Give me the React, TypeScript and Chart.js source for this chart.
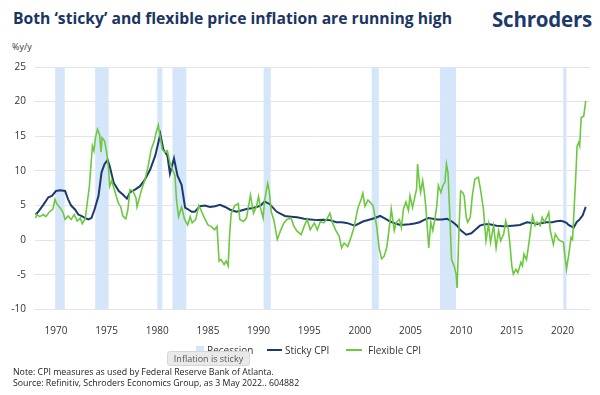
import React, { useEffect, useRef } from "react";
import { Chart, registerables } from "chart.js";

Chart.register(...registerables);

// ---- Data ----
const stickyYears = [
  1968.0, 1968.3, 1968.75, 1969.25, 1969.6, 1970.0, 1970.4, 1970.9, 1971.2, 1971.5,
  1971.9, 1972.2, 1972.5, 1972.9, 1973.2, 1973.5, 1973.8, 1974.2, 1974.5, 1974.8,
  1975.1, 1975.3, 1975.7, 1976.2, 1976.6, 1977.0, 1977.3, 1977.8, 1978.3, 1978.8,
  1979.3, 1979.8, 1980.3, 1980.6, 1981.0, 1981.25, 1981.65, 1982.0, 1982.4, 1982.75,
  1983.0, 1983.4, 1983.7, 1984.2, 1984.7, 1985.2, 1985.7, 1986.2, 1986.7, 1987.2,
  1987.8, 1988.3, 1988.8, 1989.3, 1989.8, 1990.2, 1990.6, 1991.1, 1991.8, 1992.6,
  1993.2, 1993.8, 1994.5, 1995.1, 1995.8, 1996.4, 1997.0, 1997.7, 1998.2, 1998.7,
  1999.5, 2000.3, 2001.0, 2001.5, 2002.0, 2002.5, 2003.0, 2003.5, 2004.0, 2004.9,
  2005.4, 2005.9, 2006.3, 2006.75, 2007.2, 2007.6, 2008.1, 2008.6, 2009.2, 2009.6,
  2009.9, 2010.5, 2011.0, 2011.4, 2011.85, 2012.3, 2012.8, 2013.5, 2014.2, 2015.1,
  2015.8, 2016.5, 2017.0, 2017.5, 2018.0, 2018.4, 2019.0, 2019.4, 2019.8, 2020.1,
  2020.4, 2020.6, 2021.1, 2021.4, 2021.7, 2022.0, 2022.3,
];
const stickyValues = [
  3.7, 4.2, 5.1, 6.2, 6.4, 7.1, 7.2, 7.1, 5.9, 5.0,
  4.4, 3.7, 3.5, 3.2, 3.0, 3.2, 4.4, 6.4, 9.8, 11.0,
  11.6, 10.7, 8.3, 7.1, 6.6, 6.0, 6.9, 7.3, 7.8, 8.8,
  10.2, 12.2, 15.3, 13.1, 12.2, 9.6, 11.8, 9.3, 8.0, 4.7,
  4.5, 4.1, 4.1, 4.9, 5.0, 4.8, 4.9, 5.1, 4.8, 4.4,
  4.1, 4.3, 4.5, 4.6, 4.8, 5.0, 5.6, 5.2, 4.1, 3.5,
  3.4, 3.3, 3.1, 3.0, 2.9, 2.95, 2.9, 2.6, 2.6, 2.5,
  2.1, 2.7, 3.0, 3.2, 3.5, 3.1, 2.7, 2.4, 2.2, 2.3,
  2.4, 2.6, 2.9, 3.2, 3.1, 3.0, 3.0, 3.1, 2.6, 2.1,
  1.5, 0.8, 1.0, 1.5, 2.1, 2.3, 2.3, 2.1, 2.0, 2.1,
  2.2, 2.6, 2.5, 2.3, 2.5, 2.6, 2.6, 2.75, 2.8, 2.7,
  2.5, 2.2, 1.8, 2.6, 3.0, 3.6, 4.8,
];

const flexYears = [
  1968.0, 1968.1, 1968.4, 1968.75, 1969.0, 1969.3, 1969.7, 1969.9, 1970.1, 1970.4,
  1970.7, 1970.9, 1971.2, 1971.5, 1971.8, 1972.1, 1972.4, 1972.6, 1972.9, 1973.0,
  1973.3, 1973.4, 1973.6, 1973.75, 1973.9, 1974.1, 1974.3, 1974.45, 1974.55, 1974.8,
  1975.0, 1975.2, 1975.3, 1975.5, 1975.7, 1975.9, 1976.15, 1976.4, 1976.6, 1976.9,
  1977.1, 1977.3, 1977.6, 1977.9, 1978.0, 1978.2, 1978.45, 1978.8, 1979.1, 1979.4,
  1979.7, 1979.9, 1980.1, 1980.3, 1980.5, 1980.75, 1981.0, 1981.25, 1981.5, 1981.75,
  1981.9, 1982.1, 1982.4, 1982.7, 1983.0, 1983.25, 1983.45, 1983.8, 1984.1, 1984.3,
  1984.6, 1985.0, 1985.3, 1985.65, 1985.9, 1986.1, 1986.3, 1986.6, 1986.8, 1987.0,
  1987.15, 1987.3, 1987.65, 1988.0, 1988.15, 1988.5, 1988.8, 1989.2, 1989.5, 1989.8,
  1990.0, 1990.2, 1990.45, 1990.6, 1990.9, 1991.05, 1991.25, 1991.5, 1991.85, 1992.2,
  1992.5, 1992.8, 1993.2, 1993.5, 1993.8, 1994.2, 1994.5, 1994.8, 1995.1, 1995.5,
  1995.8, 1996.1, 1996.45, 1996.8, 1997.05, 1997.3, 1997.6, 1997.95, 1998.2, 1998.45,
  1998.8, 1999.1, 1999.45, 1999.8, 2000.1, 2000.3, 2000.5, 2000.8, 2001.0, 2001.3,
  2001.65, 2001.9, 2002.15, 2002.4, 2002.65, 2002.8, 2003.0, 2003.1, 2003.4, 2003.6,
  2003.9, 2004.1, 2004.3, 2004.55, 2004.8, 2004.95, 2005.2, 2005.45, 2005.6, 2005.7,
  2005.9, 2006.0, 2006.2, 2006.35, 2006.5, 2006.65, 2006.8, 2007.0, 2007.2, 2007.4,
  2007.6, 2007.75, 2008.0, 2008.2, 2008.4, 2008.55, 2008.7, 2008.9, 2009.05, 2009.3,
  2009.5, 2009.6, 2009.8, 2009.95, 2010.15, 2010.3, 2010.5, 2010.65, 2010.9, 2011.1,
  2011.35, 2011.7, 2011.9, 2012.2, 2012.45, 2012.7, 2012.9, 2013.2, 2013.45, 2013.7,
  2013.9, 2014.2, 2014.4, 2014.65, 2014.8, 2015.0, 2015.15, 2015.4, 2015.6, 2015.9,
  2016.05, 2016.2, 2016.45, 2016.7, 2016.85, 2017.05, 2017.3, 2017.5, 2017.8, 2018.0,
  2018.2, 2018.45, 2018.65, 2018.8, 2019.1, 2019.3, 2019.6, 2019.8, 2020.1, 2020.25,
  2020.4, 2020.65, 2020.85, 2021.0, 2021.15, 2021.3, 2021.45, 2021.6, 2021.7, 2021.85,
  2022.1, 2022.3,
];
const flexValues = [
  3.2, 3.7, 3.4, 3.7, 3.4, 4.0, 4.5, 5.9, 5.2, 4.7,
  4.0, 3.0, 3.5, 3.0, 3.7, 2.75, 3.2, 2.4, 3.1, 4.4,
  7.8, 9.8, 13.6, 12.9, 14.8, 16.0, 15.3, 12.7, 14.8, 14.3,
  12.7, 10.2, 7.8, 8.6, 7.6, 6.6, 5.4, 4.8, 3.5, 3.1,
  4.4, 7.3, 7.1, 6.1, 4.8, 5.9, 7.3, 8.8, 10.7, 13.1,
  14.3, 15.6, 16.6, 14.8, 13.1, 12.7, 12.9, 11.2, 10.2, 9.3,
  5.8, 3.4, 4.8, 3.0, 2.2, 3.4, 2.5, 3.0, 5.0, 4.4,
  3.4, 2.2, 2.0, 1.5, 2.0, -3.0, -2.8, -3.5, -3.0, -3.7,
  1.0, 3.9, 5.0, 5.3, 3.0, 2.7, 3.2, 6.5, 3.9, 4.9,
  6.3, 4.6, 3.2, 5.8, 8.2, 7.2, 4.1, 3.0, 0.1, 1.5,
  2.5, 3.0, 3.2, 2.0, 1.3, 0.8, 2.0, 3.0, 1.5, 2.5,
  1.5, 2.7, 2.5, 3.2, 3.9, 2.5, 1.5, 0.6, -1.1, -0.4,
  -0.9, 0.3, 2.0, 4.6, 5.8, 6.8, 4.9, 5.8, 5.5, 5.0,
  2.1, -1.1, -2.7, -2.3, -1.1, 0.6, 3.0, 4.5, 1.4, 2.6,
  3.0, 1.8, 4.5, 5.5, 4.3, 6.4, 4.7, 6.4, 7.4, 11.0,
  7.9, 6.9, 8.6, 7.1, 5.0, 2.1, -1.1, 2.6, 1.4, 3.0,
  5.0, 7.9, 6.9, 7.9, 8.4, 11.0, 9.8, 3.0, -2.8, -3.7,
  -4.9, -6.9, 2.1, 7.1, 6.9, 6.4, 3.3, 2.6, 3.3, 6.4,
  8.8, 9.1, 7.4, 4.5, -0.1, 2.3, -0.3, 2.1, -1.1, 1.4,
  -0.1, 0.9, 2.8, 1.6, -0.3, -3.7, -4.9, -4.2, -4.7, -3.2,
  -3.7, -2.0, -2.8, -0.3, 1.4, 3.5, 2.1, 2.6, 2.1, 3.3,
  2.6, 3.3, 4.0, 1.4, -0.6, 0.9, 0.1, -0.1, -0.3, -2.3,
  -4.2, -1.8, 0.4, 0.1, 4.5, 8.8, 13.6, 14.1, 13.6, 17.7,
  17.9, 20.1,
];

const recessionStarts = [1969.92, 1973.87, 1980.0, 1981.5, 1990.5, 2001.17, 2007.92, 2020.08];
const recessionEnds = [1970.87, 1975.2, 1980.5, 1982.87, 1991.2, 2001.87, 2009.5, 2020.4];

const xTickYears = [1970, 1975, 1980, 1985, 1990, 1995, 2000, 2005, 2010, 2015, 2020];
const yTickValues = [-10, -5, 0, 5, 10, 15, 20, 25];

const NAVY = "#1d3a6e";
const GREEN = "#6cc93f";
const BAND = "#d5e6fb";
const FONT = "'Open Sans', 'Noto Sans', sans-serif";

const recessionPlugin = {
  id: "recessionBands",
  beforeDatasetsDraw(chart: any) {
    const { ctx, chartArea, scales } = chart;
    const xs = scales.x;
    ctx.save();
    ctx.fillStyle = BAND;
    for (let i = 0; i < recessionStarts.length; i++) {
      const x0 = xs.getPixelForValue(recessionStarts[i]);
      const x1 = xs.getPixelForValue(recessionEnds[i]);
      ctx.fillRect(x0, chartArea.top, Math.max(x1 - x0, 3), chartArea.bottom - chartArea.top);
    }
    ctx.restore();
  },
};

export default function App() {
  const canvasRef = useRef<HTMLCanvasElement | null>(null);

  useEffect(() => {
    if (!canvasRef.current) return;
    const chart = new Chart(canvasRef.current, {
      type: "line",
      data: {
        datasets: [
          {
            label: "Flexible CPI",
            data: flexYears.map((x, i) => ({ x, y: flexValues[i] })),
            borderColor: GREEN,
            borderWidth: 1.6,
            pointRadius: 0,
            tension: 0,
            fill: false,
          },
          {
            label: "Sticky CPI",
            data: stickyYears.map((x, i) => ({ x, y: stickyValues[i] })),
            borderColor: NAVY,
            borderWidth: 2,
            pointRadius: 0,
            tension: 0,
            fill: false,
          },
        ],
      },
      options: {
        animation: false,
        responsive: false,
        devicePixelRatio: 1,
        layout: { padding: { top: 67, right: 10, bottom: 0, left: 0 } },
        plugins: {
          legend: { display: false },
          tooltip: { enabled: false },
          title: { display: false },
        },
        scales: {
          x: {
            type: "linear",
            min: 1967.93,
            max: 2022.72,
            grid: { display: false },
            border: { display: false },
            afterBuildTicks: (scale: any) => {
              scale.ticks = xTickYears.map((v) => ({ value: v }));
            },
            afterFit: (scale: any) => {
              scale.height = 85.5;
            },
            ticks: {
              autoSkip: false,
              maxRotation: 0,
              padding: 8,
              color: "#333333",
              font: { family: FONT, size: 10 },
              callback: (v: any) => String(v),
            },
          },
          y: {
            min: -10,
            max: 25,
            afterBuildTicks: (scale: any) => {
              scale.ticks = yTickValues.map((v) => ({ value: v }));
            },
            afterFit: (scale: any) => {
              scale.width = 35;
            },
            grid: { color: "#e4e4e4", lineWidth: 1, drawTicks: false },
            border: { display: false },
            ticks: {
              padding: 9,
              color: "#333333",
              font: { family: FONT, size: 10 },
            },
          },
        },
      },
      plugins: [recessionPlugin],
    });
    return () => chart.destroy();
  }, []);

  const text = (extra: React.CSSProperties): React.CSSProperties => ({
    position: "absolute",
    fontFamily: FONT,
    whiteSpace: "nowrap",
    ...extra,
  });

  return (
    <div
      style={{
        position: "fixed",
        left: 0,
        top: 0,
        width: 600,
        height: 395,
        background: "#ffffff",
        overflow: "hidden",
      }}
    >
      <div style={text({ left: 13, top: 8, fontSize: 15.7, lineHeight: "20px", fontWeight: 700, color: "#1b3563" })}>
        Both ‘sticky’ and flexible price inflation are running high
      </div>
      <div style={text({ left: 492, top: 6, fontSize: 20.5, lineHeight: "26px", fontWeight: 700, color: "#1d3a6b", letterSpacing: -0.2 })}>
        Schroders
      </div>
      <div style={text({ left: 12, top: 41, fontSize: 9, lineHeight: "12px", color: "#333" })}>%y/y</div>
      <canvas ref={canvasRef} width={600} height={395} style={{ position: "absolute", left: 0, top: 0, width: 600, height: 395 }} />

      {/* legend */}
      <div style={{ position: "absolute", left: 196, top: 346, width: 8, height: 8, background: BAND }} />
      <div style={text({ left: 207, top: 344, fontSize: 10, lineHeight: "12px", color: "#333" })}>Recession</div>
      <div style={{ position: "absolute", left: 267, top: 349, width: 15, height: 2, background: NAVY }} />
      <div style={text({ left: 285, top: 344, fontSize: 10, lineHeight: "12px", color: "#333" })}>Sticky CPI</div>
      <div style={{ position: "absolute", left: 346, top: 349, width: 16, height: 2, background: GREEN }} />
      <div style={text({ left: 368, top: 344, fontSize: 10, lineHeight: "12px", color: "#333" })}>Flexible CPI</div>

      {/* browser tooltip overlay */}
      <div
        style={text({
          left: 167,
          top: 351,
          width: 83,
          height: 15,
          boxSizing: "border-box",
          background: "#e9e9e9",
          border: "1px solid #d6d6d6",
          borderRadius: 3,
          fontSize: 9,
          lineHeight: "13px",
          color: "#555",
          textAlign: "center",
        })}
      >
        Inflation is sticky
      </div>

      <div style={text({ left: 13, top: 366, fontSize: 8.8, lineHeight: "12px", color: "#222" })}>
        Note: CPI measures as used by Federal Reserve Bank of Atlanta.
      </div>
      <div style={text({ left: 13, top: 377, fontSize: 8.8, lineHeight: "12px", color: "#222" })}>
        Source: Refinitiv, Schroders Economics Group, as  3 May 2022.. 604882
      </div>
    </div>
  );
}
